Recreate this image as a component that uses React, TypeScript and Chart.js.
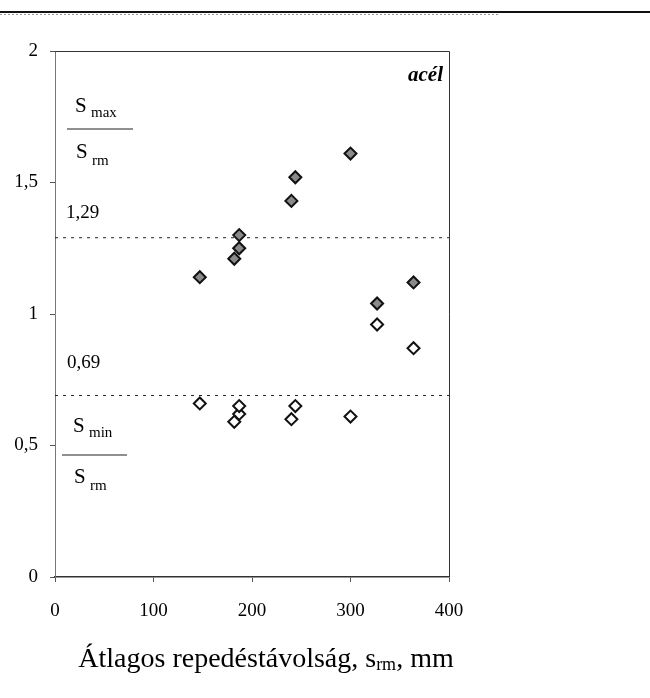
import React, { useEffect, useRef } from "react";
import { Chart, registerables } from "chart.js";

Chart.register(...registerables);

// ---- data ----
const maxX = [147, 182, 187, 187, 240, 244, 300, 327, 364];
const maxY = [1.14, 1.21, 1.25, 1.3, 1.43, 1.52, 1.61, 1.04, 1.12];
const minX = [147, 182, 187, 187, 240, 244, 300, 327, 364];
const minY = [0.66, 0.59, 0.62, 0.65, 0.6, 0.65, 0.61, 0.96, 0.87];
const upperLimit = 1.29;
const lowerLimit = 0.69;
const upperLabel = "1,29";
const lowerLabel = "0,69";
const materialLabel = "acél";
const xTitleParts = ["Átlagos repedéstávolság, s", "rm", ", mm"];
const xTicks = [0, 100, 200, 300, 400];
const yTicks = [0, 0.5, 1, 1.5, 2];

const SERIF = "'Liberation Serif', 'Times New Roman', serif";

const decorPlugin = {
  id: "decor",
  afterDraw(chart: any) {
    const ctx = chart.ctx as CanvasRenderingContext2D;
    const a = chart.chartArea;
    const L = a.left;
    const T = a.top;
    ctx.save();
    // page rule at top
    ctx.strokeStyle = "#111";
    ctx.lineWidth = 2;
    ctx.beginPath();
    ctx.moveTo(0, 12);
    ctx.lineTo(650, 12);
    ctx.stroke();
    ctx.strokeStyle = "#999";
    ctx.lineWidth = 1;
    ctx.setLineDash([2, 2]);
    ctx.beginPath();
    ctx.moveTo(0, 14.5);
    ctx.lineTo(500, 14.5);
    ctx.stroke();
    ctx.setLineDash([]);

    // frame
    ctx.strokeStyle = "#333";
    ctx.lineWidth = 1;
    ctx.beginPath();
    ctx.moveTo(a.left, a.top + 0.5);
    ctx.lineTo(a.right + 0.5, a.top + 0.5);
    ctx.lineTo(a.right + 0.5, a.bottom);
    ctx.stroke();

    ctx.fillStyle = "#000";
    ctx.textBaseline = "alphabetic";
    ctx.textAlign = "left";

    const frac = (x: number, topBase: number, sub1: string, lineY: number, lineX0: number, lineX1: number, botBase: number) => {
      ctx.font = `21px ${SERIF}`;
      ctx.fillText("S", x, topBase);
      ctx.font = `15px ${SERIF}`;
      ctx.fillText(sub1, x + 16, topBase + 5);
      ctx.strokeStyle = "#222";
      ctx.lineWidth = 1.2;
      ctx.beginPath();
      ctx.moveTo(lineX0, lineY);
      ctx.lineTo(lineX1, lineY);
      ctx.stroke();
      ctx.font = `21px ${SERIF}`;
      ctx.fillText("S", x + 1, botBase);
      ctx.font = `15px ${SERIF}`;
      ctx.fillText("rm", x + 17, botBase + 7);
    };

    // relative to chart area
    frac(L + 20, T + 61, "max", T + 78, L + 12, L + 78, T + 107);
    frac(L + 18, T + 381, "min", T + 404, L + 7, L + 72, T + 432);

    ctx.font = `19px ${SERIF}`;
    const ys = chart.scales.y;
    ctx.fillText(upperLabel, L + 11, ys.getPixelForValue(upperLimit) - 20);
    ctx.fillText(lowerLabel, L + 12, ys.getPixelForValue(lowerLimit) - 28);

    ctx.font = `italic bold 21px ${SERIF}`;
    ctx.textAlign = "right";
    ctx.fillText(materialLabel, a.right - 6, T + 30);

    // x axis title with subscript
    ctx.textAlign = "left";
    const big = `28px ${SERIF}`;
    const small = `18px ${SERIF}`;
    ctx.font = big;
    const w0 = ctx.measureText(xTitleParts[0]).width;
    const w2 = ctx.measureText(xTitleParts[2]).width;
    ctx.font = small;
    const w1 = ctx.measureText(xTitleParts[1]).width;
    const total = w0 + w1 + w2;
    const cx = 266;
    let x = cx - total / 2;
    const base = 667;
    ctx.font = big;
    ctx.fillText(xTitleParts[0], x, base);
    x += w0;
    ctx.font = small;
    ctx.fillText(xTitleParts[1], x, base + 3);
    x += w1;
    ctx.font = big;
    ctx.fillText(xTitleParts[2], x, base);
    ctx.restore();
  },
};

export default function App() {
  const ref = useRef<HTMLCanvasElement | null>(null);
  useEffect(() => {
    if (!ref.current) return;
    const chart = new Chart(ref.current, {
      type: "scatter",
      data: {
        datasets: [
          {
            type: "line",
            data: [
              { x: xTicks[0], y: upperLimit },
              { x: xTicks[xTicks.length - 1], y: upperLimit },
            ],
            borderColor: "#222",
            borderWidth: 1,
            borderDash: [3, 5],
            pointRadius: 0,
            order: 5,
          } as any,
          {
            type: "line",
            data: [
              { x: xTicks[0], y: lowerLimit },
              { x: xTicks[xTicks.length - 1], y: lowerLimit },
            ],
            borderColor: "#222",
            borderWidth: 1,
            borderDash: [3, 5],
            pointRadius: 0,
            order: 5,
          } as any,
          {
            data: maxX.map((x, i) => ({ x, y: maxY[i] })),
            pointStyle: "rectRot",
            pointRadius: 6,
            backgroundColor: "#8a8a8a",
            borderColor: "#111",
            borderWidth: 2,
            order: 0,
          },
          {
            data: minX.map((x, i) => ({ x, y: minY[i] })),
            pointStyle: "rectRot",
            pointRadius: 6,
            backgroundColor: "#fff",
            borderColor: "#111",
            borderWidth: 2,
            order: 0,
          },
        ],
      },
      options: {
        responsive: false,
        animation: false,
        layout: { padding: { left: 0, right: 201, top: 51, bottom: 0 } },
        plugins: { legend: { display: false }, tooltip: { enabled: false } },
        scales: {
          x: {
            type: "linear",
            min: xTicks[0],
            max: xTicks[xTicks.length - 1],
            afterBuildTicks: (s: any) => {
              s.ticks = xTicks.map((v) => ({ value: v }));
            },
            ticks: {
              color: "#000",
              font: { family: SERIF, size: 19 },
              padding: 18,
              maxRotation: 0,
            },
            grid: { drawOnChartArea: false, drawTicks: true, tickLength: 5, color: "#555" },
            border: { color: "#333", width: 1.5 },
            afterFit: (s: any) => {
              s.height = 121;
            },
          },
          y: {
            min: yTicks[0],
            max: yTicks[yTicks.length - 1],
            afterBuildTicks: (s: any) => {
              s.ticks = yTicks.map((v) => ({ value: v }));
            },
            ticks: {
              color: "#000",
              font: { family: SERIF, size: 19 },
              padding: 12,
              callback: (v: any) => String(v).replace(".", ","),
            },
            grid: { drawOnChartArea: false, drawTicks: true, tickLength: 5, color: "#555" },
            border: { color: "#777", width: 1 },
            afterFit: (s: any) => {
              s.width = 55;
            },
          },
        },
      },
      plugins: [decorPlugin],
    } as any);
    return () => chart.destroy();
  }, []);
  return (
    <div style={{ position: "absolute", left: 0, top: 0, width: 650, height: 698, background: "#fff" }}>
      <canvas ref={ref} width={650} height={698} style={{ width: 650, height: 698 }} />
    </div>
  );
}
